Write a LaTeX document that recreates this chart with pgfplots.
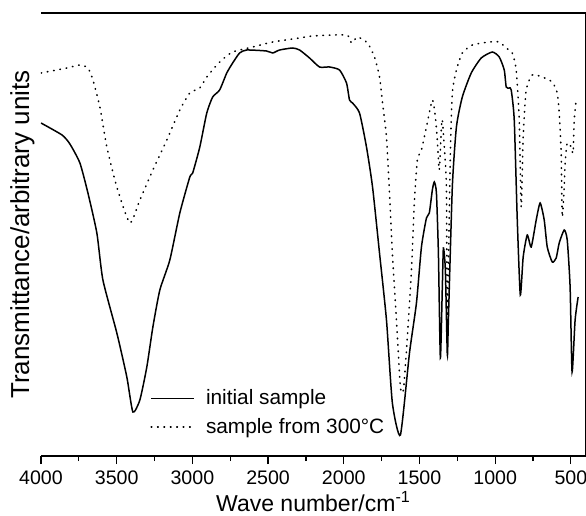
\documentclass[border=0pt]{standalone}
\usepackage{fontspec}
\setmainfont{Liberation Sans}
\usepackage{pgfplots}
\pgfplotsset{compat=1.18}

\begin{document}
\begin{tikzpicture}
\begin{axis}[
    name=ax,
    scale only axis,
    width=272.5pt, height=221.5pt,
    x dir=reverse,
    xmin=400, xmax=4000,
    ymin=0, ymax=443,
    xtick={500,1000,...,4000},
    minor x tick num=1,
    ytick=\empty,
    axis y line*=right,
    xtick pos=bottom,
    tick align=outside,
    major tick length=4pt,
    minor tick length=2.5pt,
    axis line style={line width=0.75pt},
    every tick/.style={black, line width=0.6pt},
    /pgf/number format/1000 sep={},
    /pgf/number format/assume math mode=true,
    tick label style={font=\fontsize{9.8}{11}\selectfont},
    xlabel={Wave number/cm\textsuperscript{-1}},
    ylabel={Transmittance/arbitrary units},
    every axis x label/.style={at={(axis description cs:0.5,0)}, anchor=base, yshift=-27.5pt,
        inner sep=0pt, font=\fontsize{11.5}{14}\selectfont},
    every axis y label/.style={at={(axis description cs:0,0.5)}, xshift=-3pt, rotate=90,
        anchor=south, inner sep=0pt, font=\fontsize{13}{15}\selectfont},
    legend style={font=\fontsize{10.4}{12}\selectfont, draw=none, fill=none,
        at={(axis description cs:0.189,0.026)}, anchor=south west, row sep=1.2pt, column sep=3.5pt},
    legend cell align=left,
    legend image code/.code={\draw[#1] (0pt,0pt) -- (21.5pt,0pt);},
]
\addplot[black, line width=0.75pt, smooth, tension=0.35] coordinates {
(4000,333) (3861,321) (3809,312) (3743,293) (3690,263) (3631,223) (3591,176)
(3499,123) (3433,79) (3393,44) (3347,56) (3301,89) (3261,129) (3215,166)
(3149,196) (3083,243) (3017,279) (2998,283) (2951,309) (2905,343) (2866,359)
(2820,366) (2773,383) (2734,393) (2688,403) (2641,406) (2510,405) (2470,403)
(2424,406) (2338,408) (2292,406) (2226,398) (2160,389) (2094,389) (2028,386)
(1982,373) (1962,356) (1942,353) (1896,343) (1850,309) (1810,269) (1764,203)
(1718,136) (1679,53) (1626,21) (1566,103) (1520,153) (1487,209) (1454,238)
(1435,243) (1415,266) (1402,274) (1388,263) (1375,203) (1362,98) (1349,169)
(1342,208) (1329,186) (1316,101) (1309,136) (1283,269) (1256,329) (1217,359)
(1158,383) (1092,398) (1019,404) (973,399) (940,386) (927,369) (907,368)
(894,366) (874,336) (854,236) (834,161) (815,199) (788,221) (762,209)
(729,236) (703,253) (676,236) (656,209) (623,194) (597,198) (577,213)
(544,226) (524,216) (505,169) (492,84) (472,136) (452,159)
};
\addlegendentry{initial sample}
\addplot[black, line width=0.8pt, line cap=round, dash pattern=on 0.3pt off 2.9pt, smooth, tension=0.35] coordinates {
(4000,383) (3829,388) (3743,391) (3690,388) (3657,376) (3611,349) (3565,309)
(3499,269) (3413,233) (3347,256) (3261,286) (3169,316) (3083,346) (3017,363)
(2951,368) (2905,379) (2820,394) (2734,404) (2602,409) (2470,414) (2292,418)
(2206,420) (1982,421) (1949,413) (1909,419) (1843,413) (1797,399) (1764,379)
(1744,353) (1718,319) (1698,263) (1679,203) (1652,136) (1626,69) (1606,66)
(1580,119) (1553,186) (1534,253) (1514,296) (1487,306) (1454,329) (1415,356)
(1395,339) (1382,316) (1369,286) (1355,329) (1349,336) (1336,309) (1322,269)
(1316,136) (1296,303) (1283,363) (1256,386) (1217,403) (1151,411) (1039,414)
(973,414) (927,408) (887,403) (861,386) (841,336) (828,249) (815,319)
(795,366) (755,381) (689,379) (623,374) (590,363) (577,343) (564,303)
(557,239) (544,269) (538,293) (524,313) (498,309) (485,303) (478,336)
(465,356)
};
\addlegendentry{sample from 300°C}
\end{axis}
\pgfresetboundingbox
\path[use as bounding box] ([shift={(-20.5pt,-29.5pt)}]ax.south west) rectangle ([shift={(0pt,6.5pt)}]ax.north east);
\end{tikzpicture}
\end{document}
